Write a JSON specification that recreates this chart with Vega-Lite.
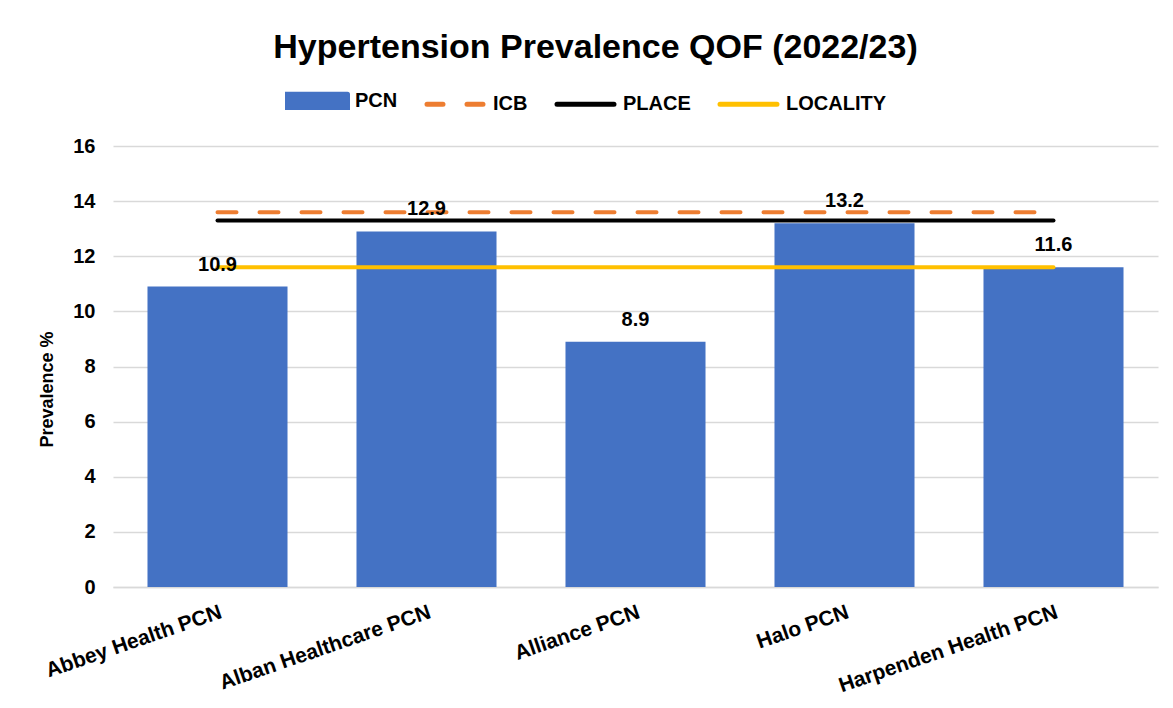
{
  "$schema": "https://vega.github.io/schema/vega-lite/v6.json",
  "autosize": {"type": "none"},
  "width": 1045,
  "height": 441,
  "padding": {"left": 113, "top": 146, "right": 15, "bottom": 121},
  "background": "white",
  "config": {
    "font": "Liberation Sans",
    "view": {"stroke": null}
  },
  "title": {
    "text": "Hypertension Prevalence QOF (2022/23)",
    "fontSize": 34,
    "fontWeight": "bold",
    "color": "#000000",
    "anchor": "middle",
    "dx": -40,
    "offset": 3
  },
  "data": {
    "values": [
      {"pcn": "Abbey Health PCN", "prevalence": 10.9, "ICB": 13.6, "PLACE": 13.3, "LOCALITY": 11.6},
      {"pcn": "Alban Healthcare PCN", "prevalence": 12.9, "ICB": 13.6, "PLACE": 13.3, "LOCALITY": 11.6},
      {"pcn": "Alliance PCN", "prevalence": 8.9, "ICB": 13.6, "PLACE": 13.3, "LOCALITY": 11.6},
      {"pcn": "Halo PCN", "prevalence": 13.2, "ICB": 13.6, "PLACE": 13.3, "LOCALITY": 11.6},
      {"pcn": "Harpenden Health PCN", "prevalence": 11.6, "ICB": 13.6, "PLACE": 13.3, "LOCALITY": 11.6}
    ]
  },
  "encoding": {
    "x": {
      "field": "pcn",
      "type": "nominal",
      "sort": null,
      "scale": {"paddingInner": 0.33, "paddingOuter": 0.165},
      "axis": {
        "title": null,
        "labelAngle": -19,
        "labelFontSize": 21,
        "labelFontWeight": "bold",
        "labelColor": "#000000",
        "labelPadding": 14,
        "labelLimit": 400,
        "ticks": false,
        "domainColor": "#d9d9d9",
        "domainWidth": 1.5
      }
    }
  },
  "layer": [
    {
      "mark": {"type": "bar"},
      "encoding": {
        "y": {
          "field": "prevalence",
          "type": "quantitative",
          "scale": {"domain": [0, 16]},
          "axis": {
            "title": "Prevalence %",
            "titleFontSize": 18,
            "titleFontWeight": "bold",
            "titleColor": "#000000",
            "titlePadding": 16,
            "titleY": 243,
            "values": [0, 2, 4, 6, 8, 10, 12, 14, 16],
            "labelFontSize": 20,
            "labelFontWeight": "bold",
            "labelColor": "#000000",
            "labelPadding": 18,
            "ticks": false,
            "domain": false,
            "gridColor": "#d9d9d9",
            "gridWidth": 1.5
          }
        },
        "color": {
          "datum": "PCN",
          "type": "nominal",
          "scale": {
            "domain": ["PCN", "ICB", "PLACE", "LOCALITY"],
            "range": ["#4472C4", "#ED7D31", "#000000", "#FFC000"]
          },
          "legend": {
            "title": null,
            "orient": "none",
            "legendX": 172,
            "legendY": -78,
            "direction": "horizontal",
            "labelFontSize": 20,
            "labelFontWeight": "bold",
            "labelColor": "#000000",
            "labelBaseline": "middle",
            "columnPadding": 19,
            "symbolSize": 3600,
            "labelOffset": 5,
            "symbolStrokeWidth": 4,
            "encode": {
              "symbols": {
                "update": {
                  "shape": {"signal": "datum.value === 'PCN' ? 'M-1,-0.22H1V0.22H-1Z' : 'M-0.95,0H0.95'"},
                  "fill": {"signal": "datum.value === 'PCN' ? '#4472C4' : 'transparent'"},
                  "stroke": {"signal": "datum.value === 'PCN' ? 'transparent' : (datum.value === 'ICB' ? '#ED7D31' : (datum.value === 'PLACE' ? '#000000' : '#FFC000'))"},
                  "strokeDash": {"signal": "datum.value === 'ICB' ? [16, 24] : [1, 0]"},
                  "strokeWidth": {"value": 5},
                  "strokeCap": {"value": "round"},
                  "opacity": {"value": 1}
                }
              }
            }
          }
        }
      }
    },
    {
      "mark": {"type": "line", "strokeWidth": 4, "strokeDash": [19, 23], "strokeCap": "round"},
      "encoding": {
        "y": {"field": "ICB", "type": "quantitative"},
        "color": {"datum": "ICB", "type": "nominal"}
      }
    },
    {
      "mark": {"type": "line", "strokeWidth": 4, "strokeCap": "round"},
      "encoding": {
        "y": {"field": "PLACE", "type": "quantitative"},
        "color": {"datum": "PLACE", "type": "nominal"}
      }
    },
    {
      "mark": {"type": "line", "strokeWidth": 4, "strokeCap": "round"},
      "encoding": {
        "y": {"field": "LOCALITY", "type": "quantitative"},
        "color": {"datum": "LOCALITY", "type": "nominal"}
      }
    },
    {
      "mark": {"type": "text", "dy": -22, "fontSize": 20, "fontWeight": "bold", "color": "#000000"},
      "encoding": {
        "y": {"field": "prevalence", "type": "quantitative"},
        "text": {"field": "prevalence", "type": "quantitative", "format": ".1f"}
      }
    }
  ]
}
